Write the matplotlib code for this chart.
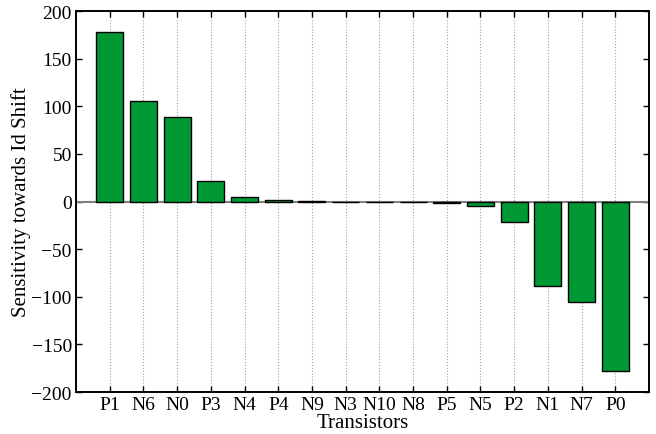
import matplotlib
matplotlib.use("Agg")
import matplotlib.pyplot as plt
import numpy as np

plt.rcParams['font.family'] = ['Liberation Serif', 'DejaVu Serif']

transistors = ["P1", "N6", "N0", "P3", "N4", "P4", "N9", "N3", "N10", "N8",
               "P5", "N5", "P2", "N1", "N7", "P0"]
sensitivity = [178, 105.5, 89, 21, 4.5, 1.2, 1.0, -0.5, -0.6, -1.0,
               -1.2, -4.5, -21, -89, -105.5, -178]

fig = plt.figure(figsize=(6.56, 4.35), dpi=100)
ax = fig.add_axes([76 / 656, 1 - 393 / 435, 573 / 656, 381 / 435])

x = np.arange(1, len(transistors) + 1)
ax.bar(x, sensitivity, width=0.8, color="#009933", edgecolor="black", linewidth=1.0, zorder=3)
ax.axhline(0, color="#808080", linewidth=1.5, zorder=2)

ax.set_xlim(0, len(transistors) + 1)
ax.set_ylim(-200, 200)
ax.set_xticks(x)
ax.set_xticklabels(transistors)
ax.set_yticks(np.arange(-200, 201, 50))
ax.set_yticklabels([str(v).replace("-", "\u2212") for v in range(-200, 201, 50)])
ax.xaxis.grid(True, linestyle=":", color="#a0a0a0", linewidth=0.8, zorder=0)

ax.tick_params(direction="in", top=True, right=True, length=4, labelsize=14, width=1, pad=3)
for s in ax.spines.values():
    s.set_linewidth(1.4)

ax.set_xlabel("Transistors", fontsize=15, labelpad=0)
ax.set_ylabel("Sensitivity towards Id Shift", fontsize=15, labelpad=0)

fig.savefig("out.png", dpi=100)
